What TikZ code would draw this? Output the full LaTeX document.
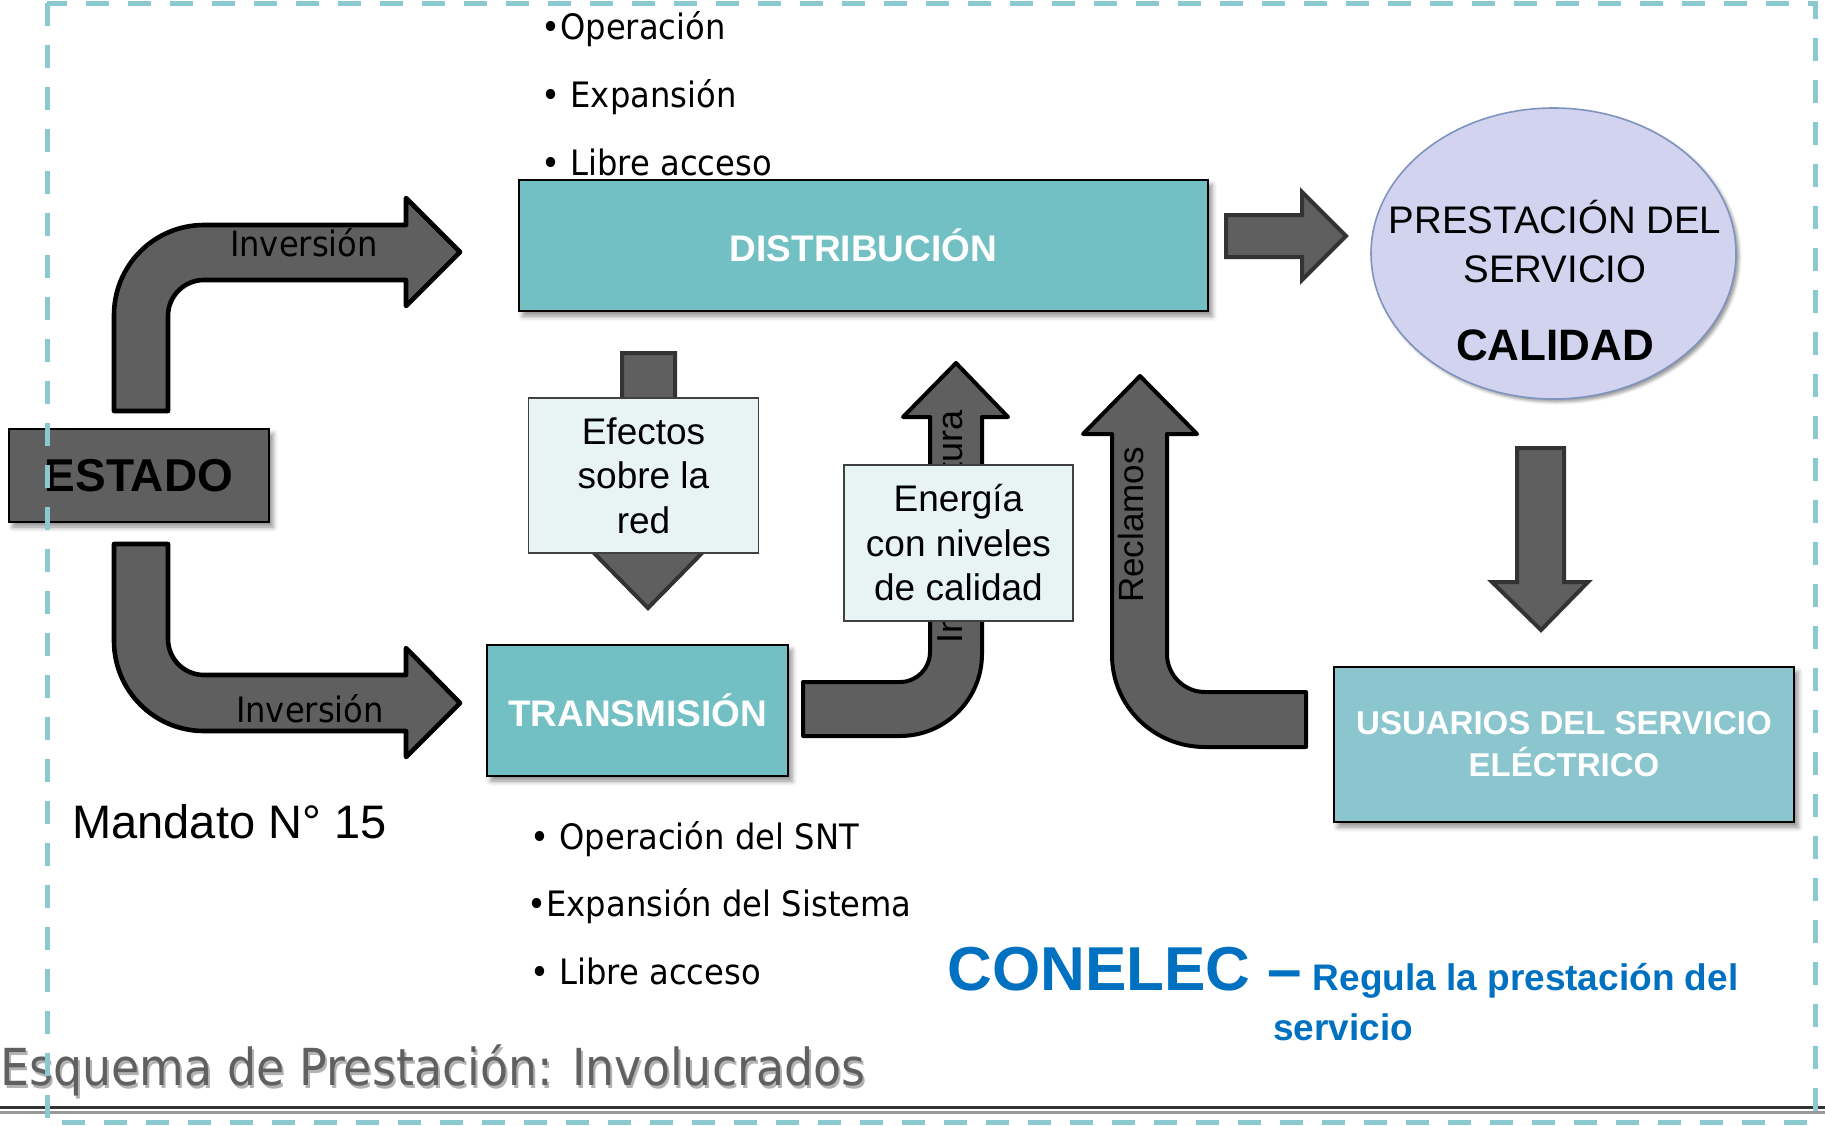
\documentclass[tikz,border=0pt]{standalone}
\usepackage{fontspec}
\setmainfont{Liberation Sans}
\newfontfamily\tahomafont[FakeStretch=0.92]{DejaVu Sans}
\newfontfamily\titlefont[FakeStretch=0.9]{DejaVu Sans}
\usetikzlibrary{shapes.geometric,shadows.blur}
\definecolor{boxteal}{HTML}{72BFC4}
\definecolor{userteal}{HTML}{8BC5CD}
\definecolor{arrowgray}{HTML}{5F5F5F}
\definecolor{notefill}{HTML}{E8F4F4}
\definecolor{ovalfill}{HTML}{D1D3EF}
\definecolor{ovalline}{HTML}{7F93BF}
\definecolor{dashcyan}{HTML}{8BC9D1}
\definecolor{conblue}{HTML}{0070C0}
\definecolor{titlegray}{HTML}{606060}
\newcommand\setfs[2]{\fontsize{#1}{#2}\selectfont}
\begin{document}
\begin{tikzpicture}[x=0.5pt,y=-0.5pt,
        blockarrow/.style={fill=arrowgray,draw=black,line width=2.3pt,line join=round},
        darkarrow/.style={fill=arrowgray,draw=black!80,line width=2pt},
        shade/.style={blur shadow={shadow xshift=2pt,shadow yshift=-2.5pt,shadow blur radius=2.5pt,shadow opacity=45}},
        tealbox/.style={draw=black,line width=0.8pt,inner sep=0pt,shade,text=white,align=center},
        notebox/.style={draw=black!75,fill=notefill,line width=0.8pt,inner sep=0pt,align=center,
            minimum width=115pt,minimum height=77.5pt,font=\setfs{18.5}{22.25}},
        bullet/.style={anchor=base west,inner sep=0pt,font=\tahomafont\setfs{17.5}{20}},
        flowtext/.style={inner sep=0pt,font=\tahomafont\setfs{17.5}{20}}]
        \useasboundingbox (0,0) rectangle (1825,1125);
        %% bent arrows from the state
        \draw[blockarrow] (114,411) -- (114,315) .. controls (114,265.3) and (154.3,225) .. (204,225)
            -- (406,225) -- (406,198) -- (460,252) -- (406,306) -- (406,280) -- (204,280)
            .. controls (184.1,280) and (168,296.1) .. (168,316) -- (168,411) -- cycle;
        \draw[blockarrow] (114,544) -- (114,641) .. controls (114,690.7) and (154.3,731) .. (204,731)
            -- (406,731) -- (406,757) -- (460,703) -- (406,648) -- (406,675) -- (204,675)
            .. controls (184.1,675) and (168,658.9) .. (168,639) -- (168,544) -- cycle;
        \node[flowtext,anchor=base] (invup) at (304,256) {Inversión};
        \node[flowtext,anchor=base] (invdown) at (310,722) {Inversión};
        %% infraestructura and reclamos
        \draw[blockarrow,line width=2pt] (803,682) -- (900,682) .. controls (916.6,682) and (930,668.6) .. (930,652)
            -- (930,417) -- (903,417) -- (956,363) -- (1008,417) -- (982,417) -- (982,654)
            .. controls (982,699.3) and (945.3,736) .. (900,736) -- (803,736) -- cycle;
        \node[rotate=90,inner sep=0pt,font=\setfs{18}{20}] (infra) at (950,527) {Infraestructura};
        \draw[blockarrow,line width=2pt] (1306,692) -- (1205,692) .. controls (1184,692) and (1167,675) .. (1167,654)
            -- (1167,434) -- (1197,434) -- (1140,376) -- (1083,434) -- (1112,434) -- (1112,655)
            .. controls (1112,706.3) and (1153.7,747) .. (1205,747) -- (1306,747) -- cycle;
        \node[rotate=90,inner sep=0pt,font=\setfs{17.5}{20}] (reclamos) at (1131,525) {Reclamos};
        %% straight arrows
        \draw[darkarrow] (622,353) -- (675,353) -- (675,548) -- (707,548) -- (648,608) -- (589,548) -- (622,548) -- cycle;
        \draw[darkarrow] (1226,215) -- (1302,215) -- (1302,192) -- (1346,236) -- (1302,280) -- (1302,257) -- (1226,257) -- cycle;
        \draw[darkarrow] (1517,448) -- (1564,448) -- (1564,582) -- (1588,582) -- (1541,630) -- (1492,582) -- (1517,582) -- cycle;
        %% boxes
        \node[tealbox,fill=boxteal,minimum width=344.5pt,minimum height=65.5pt,font=\bfseries\setfs{18.5}{22}] (distrib) at (863.5,245.5) {DISTRIBUCIÓN};
        \node[tealbox,fill=boxteal,minimum width=150.5pt,minimum height=65.5pt,font=\bfseries\setfs{18.5}{22}] (transm) at (637.5,710.5) {TRANSMISIÓN};
        \node[tealbox,fill=userteal,minimum width=230pt,minimum height=77.5pt,font=\bfseries\setfs{16.5}{21}] (usuarios) at (1564,744.5) {USUARIOS DEL SERVICIO\\ELÉCTRICO};
        \node[tealbox,fill=arrowgray,text=black,minimum width=130pt,minimum height=46.5pt,font=\bfseries\setfs{23}{26}] (estado) at (139,475.5) {ESTADO};
        \node[notebox] (efectos) at (643.5,475.5) {Efectos\\sobre la\\red};
        \node[notebox,minimum width=114.5pt,minimum height=78pt] (energia) at (958.5,543) {Energía\\con niveles\\de calidad};
        %% oval
        \node[ellipse,draw=ovalline,line width=0.8pt,fill=ovalfill,minimum width=182.5pt,minimum height=145.5pt,inner sep=0pt,
            blur shadow={shadow xshift=1.5pt,shadow yshift=-1.5pt,shadow blur radius=1.5pt,shadow opacity=40}] (prest) at (1553.5,253.5) {};
        \node[font=\setfs{19.2}{20},inner sep=0pt] (prestA) at (1555,217) {PRESTACIÓN DEL};
        \node[font=\setfs{19.2}{20},inner sep=0pt] (prestB) at (1555,269) {SERVICIO};
        \node[font=\bfseries\setfs{22}{24},inner sep=0pt] (calidad) at (1555,345) {CALIDAD};
        %% bullet lists
        \node[bullet] (opA) at (541,39) {•Operación};
        \node[bullet] (expA) at (541,107) {• Expansión};
        \node[bullet] (libA) at (541,175) {• Libre acceso};
        \node[bullet] (opB) at (530,849) {• Operación del SNT};
        \node[bullet] (expB) at (527,916) {•Expansión del Sistema};
        \node[bullet] (libB) at (530,984) {• Libre acceso};
        \node[anchor=base west,inner sep=0pt,font=\setfs{23.5}{26}] (mandato) at (72,838) {Mandato N° 15};
        %% regulator
        \node[anchor=base,inner sep=0pt,text=conblue,font=\bfseries\setfs{18.5}{25}] (conelec) at (1343,990)
            {{\setfs{31}{31}CONELEC –} Regula la prestación del};
        \node[anchor=base,inner sep=0pt,text=conblue,font=\bfseries\setfs{18.5}{25}] (servicio) at (1343,1040) {servicio};
        %% title and rule
        \node[anchor=base west,inner sep=0pt,text=black!30,font=\titlefont\setfs{25.5}{28}] (titleshadow) at (2,1088) {Esquema de Prestación: Involucrados};
        \node[anchor=base west,inner sep=0pt,text=titlegray,font=\titlefont\setfs{25.5}{28}] (title) at (0,1085) {Esquema de Prestación: Involucrados};
        \draw[black!40,line width=1.5pt] (0,1112) -- (1825,1112);
        \draw[black!80,line width=1.5pt] (0,1107) -- (1825,1107);
        %% dashed frame
        \draw[dashcyan,line width=2.5pt,dash pattern=on 11.5pt off 9.5pt] (47,3) rectangle (1815,1122);
    \end{tikzpicture}
\end{document}
